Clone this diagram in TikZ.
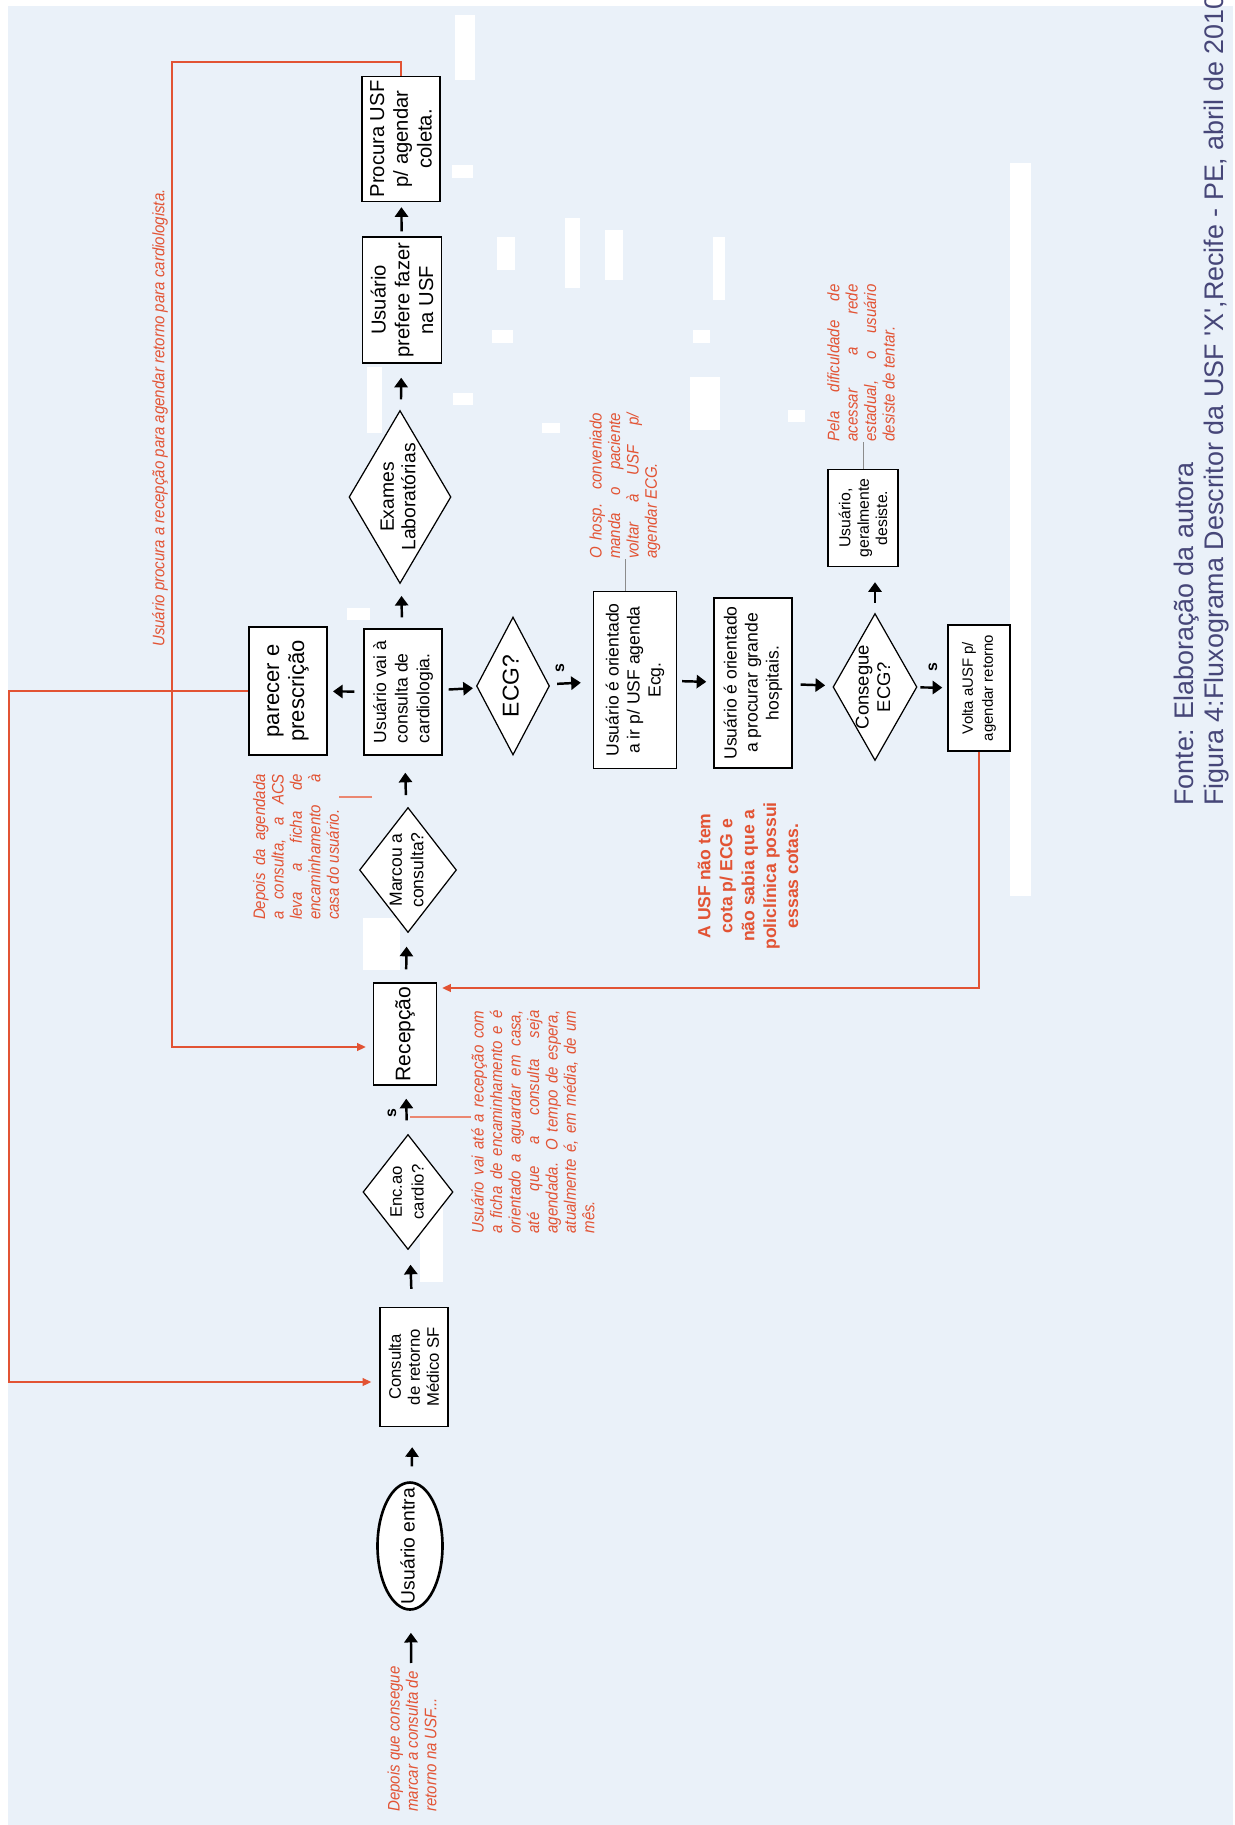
\documentclass[tikz,border=0pt]{standalone}
\usepackage{fontspec}
\setmainfont{Liberation Sans}
\newfontfamily\notefont[FakeStretch=0.9]{Liberation Sans}
\usetikzlibrary{arrows.meta,shapes.geometric,calc}

\definecolor{fundo}{RGB}{234,241,249}
\definecolor{vermelho}{RGB}{226,83,52}
\definecolor{legenda}{RGB}{70,70,120}

% texto de tamanho nulo, para que o losango tenha so o tamanho pedido
\newcommand{\zerobox}[1]{\smash{\makebox[0pt]{\raisebox{-0.5ex}{\begin{tabular}{@{}c@{}}#1\end{tabular}}}}}

\tikzset{
  girado/.style = {rotate=90, font=\fontsize{10}{12}\selectfont},
  passo/.style = {girado, rectangle, draw=black, fill=white, line width=0.8pt,
    align=center, inner sep=2pt},% etapa do fluxo
  inicio/.style = {girado, ellipse, draw=black, fill=white, line width=1.5pt,
    inner sep=0pt},% entrada do usuario
  decisao/.style = {girado, diamond, draw=black, fill=white, line width=0.7pt,
    inner sep=0pt},% pergunta
  nota/.style = {girado, text=vermelho, inner sep=0pt, align=justify,
    font=\notefont\itshape\fontsize{9.5}{10.5}\selectfont},
  alerta/.style = {girado, text=vermelho, align=center, inner sep=0pt,
    font=\bfseries\fontsize{10}{12.5}\selectfont},
  sim/.style = {girado, inner sep=0pt, font=\bfseries\fontsize{9}{10}\selectfont},
  legenda/.style = {girado, text=legenda, inner sep=0pt,
    font=\fontsize{15.3}{17}\selectfont},
  fluxo/.style = {-{Triangle[length=5.5pt,width=7.5pt]}, line width=1.4pt, black},
  volta/.style = {-{Triangle[length=5pt,width=4.5pt]}, line width=0.8pt, vermelho},
  guiaverm/.style = {line width=0.8pt, vermelho!70},
  guiacinza/.style = {line width=0.5pt, black!45}
}

\begin{document}
\begin{tikzpicture}[x=0.02cm, y=-0.02cm]
  \useasboundingbox (0,0) rectangle (1234,1825);
  \fill[white] (0,0) rectangle (1234,1825);
  \fill[fundo] (8,6) rectangle (1233,1825);
  % manchas brancas da digitalizacao
  \foreach \xa/\ya/\xb/\yb in {1010/163/1031/896, 455/15/475/80, 452/165/473/178,
      497/237/515/270, 565/218/580/288, 605/230/623/280, 713/237/725/300,
      492/330/513/343, 453/393/473/405, 542/423/560/433, 690/377/720/430,
      693/330/710/343, 367/367/382/433, 347/608/370/620, 363/918/400/970,
      420/1200/443/1282, 788/410/805/422}
    \fill[white] (\xa,\ya) rectangle (\xb,\yb);

  % coluna principal
  \node[inicio, minimum width=2.54cm, minimum height=1.3cm,
    font=\fontsize{11}{12}\selectfont] (entra) at (410,1546) {\zerobox{Usuário entra}};
  \node[passo, minimum width=2.38cm, minimum height=1.36cm,
    font=\fontsize{9.5}{10.8}\selectfont] (consulta) at (414,1367) {Consulta\\ de retorno\\ Médico SF};
  \node[decisao, minimum width=2.3cm, minimum height=1.8cm,
    font=\fontsize{9.5}{12.3}\selectfont] (enc) at (408,1192) {\zerobox{Enc.ao\\ cardio?}};
  \node[passo, minimum width=2.04cm, minimum height=1.26cm,
    font=\fontsize{12}{14}\selectfont] (recepcao) at (405,1034) {Recepção};
  \node[decisao, minimum width=2.5cm, minimum height=1.94cm,
    font=\fontsize{10}{12.3}\selectfont] (marcou) at (408,870) {\zerobox{Marcou a\\ consulta?}};
  \node[passo, minimum width=2.52cm, minimum height=1.56cm, align=left,
    font=\fontsize{10}{12.3}\selectfont] (cardio) at (403,692) {Usuário vai à\\ consulta de\\ cardiologia.};
  \node[passo, line width=1.1pt, minimum width=2.56cm, minimum height=1.56cm,
    font=\fontsize{12.5}{14.2}\selectfont] (parecer) at (288,691) {parecer e\\ prescrição};
  \node[decisao, minimum width=3.46cm, minimum height=2.04cm,
    font=\fontsize{11}{12.3}\selectfont] (exames) at (400,497) {\zerobox{Exames\\ Laboratórias}};
  \node[passo, minimum width=2.52cm, minimum height=1.58cm,
    font=\fontsize{11.5}{13.5}\selectfont] (prefere) at (402,300) {Usuário\\ prefere fazer\\ na USF};
  \node[passo, minimum width=2.5cm, minimum height=1.56cm,
    font=\fontsize{11.5}{13.5}\selectfont] (procura) at (401,139) {Procura USF\\ p/ agendar\\ coleta.};

  % ramo do ECG
  \node[decisao, minimum width=2.76cm, minimum height=1.46cm,
    font=\fontsize{13}{14}\selectfont] (ecg) at (513,686) {\zerobox{ECG?}};
  \node[passo, minimum width=3.54cm, minimum height=1.66cm] (orientusf) at (635,680)
    {Usuário é orientado\\ a ir p/ USF agenda\\ Ecg.};
  \node[passo, minimum width=3.4cm, minimum height=1.56cm] (hospitais) at (753,683)
    {Usuário é orientado\\ a procurar grande\\ hospitais.};
  \node[decisao, minimum width=2.94cm, minimum height=1.68cm,
    font=\fontsize{10.5}{12.3}\selectfont] (consegue) at (875,687) {\zerobox{Consegue\\ ECG?}};
  \node[passo, minimum width=1.94cm, minimum height=1.4cm,
    font=\fontsize{9}{10.4}\selectfont] (desiste) at (863,518) {Usuário,\\ geralmente\\ desiste.};
  \node[passo, minimum width=2.52cm, minimum height=1.24cm,
    font=\fontsize{8.5}{11.4}\selectfont] (volta) at (979,688) {Volta aUSF p/\\ agendar retorno};

  \node[sim] (s1) at (392,1113) {s};
  \node[sim] (s2) at (560,668) {s};
  \node[sim] (s3) at (933,667) {s};

  % notas
  \node[nota, text width=4.46cm] (notaenc) at (533,1122)
    {Usuário vai até a recepção com\linebreak a ficha de encaminhamento e é\linebreak
     orientado a aguardar em casa,\linebreak até que a consulta seja\linebreak
     agendada. O tempo de espera,\linebreak atualmente é, em média, de um\linebreak mês.};
  \node[nota, text width=2.92cm] (notamarcou) at (296,847)
    {Depois da agendada\linebreak a consulta, a ACS\linebreak leva a ficha de\linebreak
     encaminhamento à\linebreak casa do usuário.};
  \node[nota, text width=2.92cm] (notahosp) at (625,486)
    {O hosp. conveniado\linebreak manda o paciente\linebreak voltar à USF p/\linebreak agendar ECG.};
  \node[nota, text width=3.14cm] (notadesiste) at (861,363)
    {Pela dificuldade de\linebreak acessar a rede\linebreak estadual, o usuário\linebreak desiste de tentar.};
  \node[nota, align=left, anchor=west] (notaentra) at (412,1812)
    {Depois que consegue\\ marcar a consulta de\\ retorno na USF...};
  \node[nota] (notarecep) at (160,418)
    {Usuário procura a recepção para agendar retorno para cardiologista.};
  \node[alerta] (semcota) at (748,876)
    {A USF não tem\\ cota p/ ECG e\\ não sabia que a\\ policlínica possui\\ essas cotas.};

  \foreach \de/\para/\ini/\fim in {notaentra/entra/0.06/0.44, entra/consulta/0.30/0.40,
      consulta/enc/0.36/0.34, enc/recepcao/0.30/0.26, recepcao/marcou/0.26/0.30,
      marcou/cardio/0.28/0.34, cardio/exames/0.22/0.28, exames/prefere/0.24/0.28,
      prefere/procura/0.10/0.10, cardio/parecer/0.18/0.10, cardio/ecg/0.12/0.08,
      ecg/orientusf/0.16/0.24, orientusf/hospitais/0.10/0.14,
      hospitais/consegue/0.16/0.16, consegue/volta/0.06/0.10}
    \draw[fluxo, shorten <=\ini cm, shorten >=\fim cm] (\de) -- (\para);
  \draw[fluxo, shorten <=0.2cm, shorten >=0.3cm] (consegue) -- (consegue |- desiste.west);

  % retornos em vermelho
  \coordinate (topo) at (172,62);
  \coordinate (esq) at (9,0);
  \draw[volta, shorten >=0.14cm] (procura.east) -- (procura.east |- topo) -- (topo)
    |- ($(recepcao.north)+(0,13)$);
  \draw[volta, shorten >=0.16cm] (parecer.north) -- (parecer.north -| esq)
    |- ($(consulta.north)+(0,15)$);
  \draw[volta, shorten >=0.1cm] (volta.west) |- ($(recepcao.south)+(0,-46)$);

  \coordinate (lenc) at (410,1117);
  \coordinate (lmar) at (372,797);
  \draw[guiaverm] (lenc) -- (lenc -| notaenc.north);
  \draw[guiaverm] (lmar) -- (lmar -| notamarcou.south);
  \draw[guiacinza] (notahosp.west) -- (notahosp.west |- orientusf.east);
  \draw[guiacinza] (desiste.east) -- (desiste.east |- notadesiste.west);

  % legenda
  \node[legenda, anchor=west] (figura) at (1217,806)
    {Figura 4:Fluxograma Descritor da USF \textquotesingle X\textquotesingle,Recife - PE, abril de 2010};
  \node[legenda, anchor=west] (fonte) at (1187,806) {Fonte: Elaboração da autora};
\end{tikzpicture}
\end{document}
